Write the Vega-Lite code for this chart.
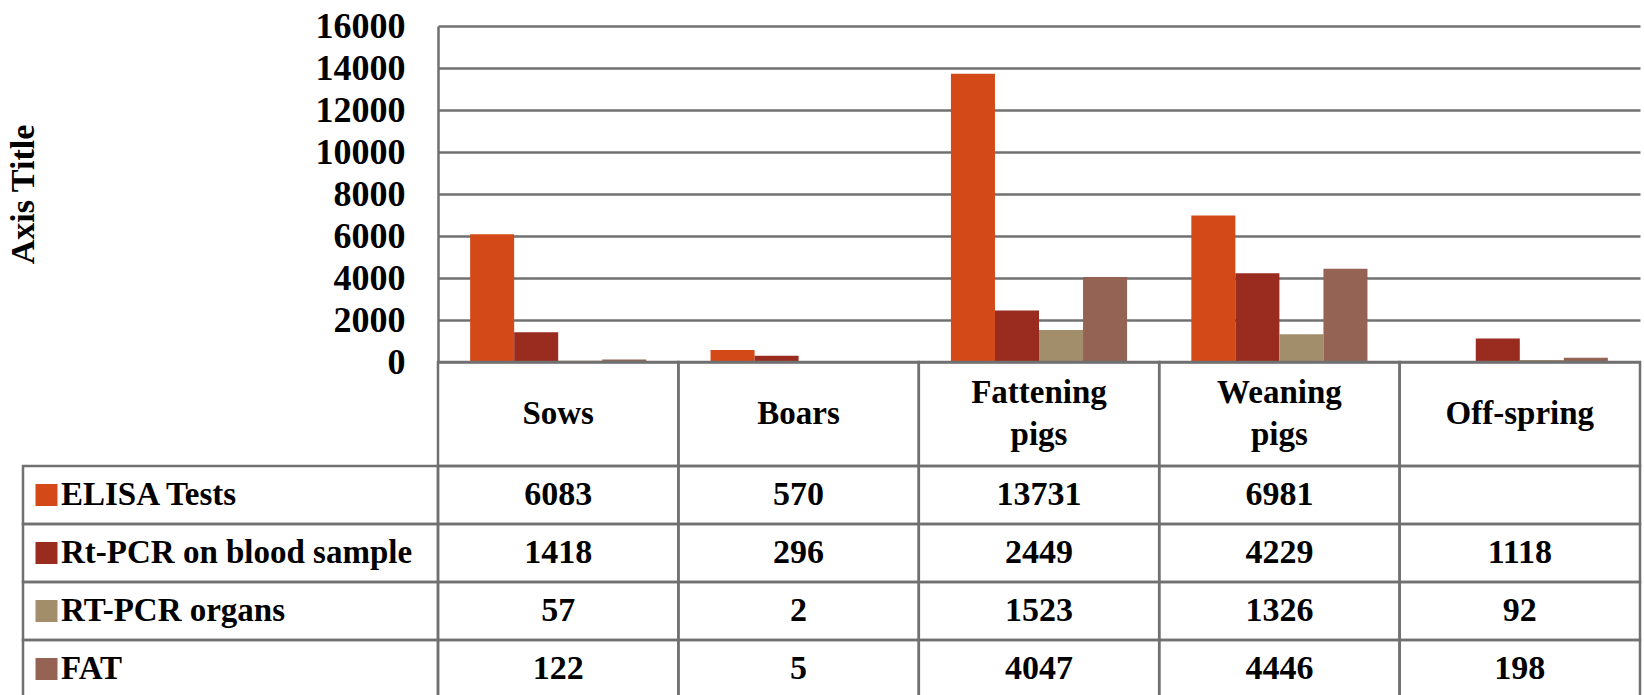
{
  "$schema": "https://vega.github.io/schema/vega-lite/v6.json",
  "background": "white",
  "padding": {"left": 6, "top": 8, "right": 0, "bottom": 0},
  "datasets": {
    "cells": [
      {"category": "Sows", "series": "ELISA Tests", "value": 6083},
      {"category": "Sows", "series": "Rt-PCR on blood sample", "value": 1418},
      {"category": "Sows", "series": "RT-PCR organs", "value": 57},
      {"category": "Sows", "series": "FAT", "value": 122},
      {"category": "Boars", "series": "ELISA Tests", "value": 570},
      {"category": "Boars", "series": "Rt-PCR on blood sample", "value": 296},
      {"category": "Boars", "series": "RT-PCR organs", "value": 2},
      {"category": "Boars", "series": "FAT", "value": 5},
      {"category": "Fattening pigs", "series": "ELISA Tests", "value": 13731},
      {"category": "Fattening pigs", "series": "Rt-PCR on blood sample", "value": 2449},
      {"category": "Fattening pigs", "series": "RT-PCR organs", "value": 1523},
      {"category": "Fattening pigs", "series": "FAT", "value": 4047},
      {"category": "Weaning pigs", "series": "ELISA Tests", "value": 6981},
      {"category": "Weaning pigs", "series": "Rt-PCR on blood sample", "value": 4229},
      {"category": "Weaning pigs", "series": "RT-PCR organs", "value": 1326},
      {"category": "Weaning pigs", "series": "FAT", "value": 4446},
      {"category": "Off-spring", "series": "ELISA Tests", "value": null},
      {"category": "Off-spring", "series": "Rt-PCR on blood sample", "value": 1118},
      {"category": "Off-spring", "series": "RT-PCR organs", "value": 92},
      {"category": "Off-spring", "series": "FAT", "value": 198}
    ],
    "empty": []
  },
  "columns": 2,
  "spacing": 0,
  "bounds": "flush",
  "align": "each",
  "concat": [
    {
      "data": {"name": "empty"},
      "width": 415,
      "height": 336,
      "mark": "text",
      "encoding": {}
    },
    {
      "data": {"name": "cells"},
      "width": 1202,
      "height": 336,
      "mark": {"type": "bar"},
      "encoding": {
        "x": {
          "field": "category", "type": "nominal",
          "sort": ["Sows", "Boars", "Fattening pigs", "Weaning pigs", "Off-spring"],
          "scale": {"paddingInner": 0, "paddingOuter": 0},
          "axis": null
        },
        "xOffset": {
          "field": "series", "type": "nominal",
          "sort": ["ELISA Tests", "Rt-PCR on blood sample", "RT-PCR organs", "FAT"],
          "scale": {"paddingInner": 0, "paddingOuter": 0.73}
        },
        "y": {
          "field": "value", "type": "quantitative",
          "scale": {"domain": [0, 16000], "nice": false},
          "axis": {
            "values": [0, 2000, 4000, 6000, 8000, 10000, 12000, 14000, 16000],
            "format": "d",
            "grid": true, "gridColor": "#707070", "gridWidth": 2.5, "gridOpacity": 1,
            "domain": true, "domainColor": "#707070", "domainWidth": 2.5,
            "ticks": false,
            "labelPadding": 33, "labelFlush": false,
            "labelFont": "Liberation Serif", "labelFontWeight": "bold", "labelFontSize": 36, "labelColor": "#000000",
            "title": "Axis Title",
            "titleFont": "Liberation Serif", "titleFontWeight": "bold", "titleFontSize": 34, "titleColor": "#000000",
            "titlePadding": 275
          }
        },
        "color": {
          "field": "series", "type": "nominal",
          "scale": {
            "domain": ["ELISA Tests", "Rt-PCR on blood sample", "RT-PCR organs", "FAT"],
            "range": ["#D34A18", "#9A2B1F", "#A38E6B", "#956353"]
          },
          "legend": null
        }
      }
    },
    {
      "data": {"name": "empty"},
      "width": 415,
      "height": 104,
      "mark": "text",
      "encoding": {}
    },
    {
      "data": {"name": "cells"},
      "transform": [{"filter": "datum.series === 'ELISA Tests'"}],
      "width": 1202,
      "height": 104,
      "encoding": {
        "x": {
          "field": "category", "type": "nominal",
          "sort": ["Sows", "Boars", "Fattening pigs", "Weaning pigs", "Off-spring"],
          "scale": {"paddingInner": 0, "paddingOuter": 0},
          "axis": null
        }
      },
      "layer": [
        {"mark": {"type": "rect", "filled": false, "stroke": "#707070", "strokeWidth": 2.5}},
        {
          "transform": [{"filter": "indexof(datum.category, ' ') < 0"}],
          "mark": {"type": "text", "font": "Liberation Serif", "fontWeight": "bold", "fontSize": 33, "color": "#000000", "baseline": "middle", "align": "center"},
          "encoding": {"text": {"field": "category", "type": "nominal"}}
        },
        {
          "transform": [{"filter": "indexof(datum.category, ' ') >= 0"}],
          "mark": {"type": "text", "font": "Liberation Serif", "fontWeight": "bold", "fontSize": 33, "color": "#000000", "baseline": "middle", "align": "center", "lineBreak": " ", "lineHeight": 42, "dy": -21},
          "encoding": {"text": {"field": "category", "type": "nominal"}}
        }
      ]
    },
    {
      "data": {"name": "cells"},
      "transform": [{"filter": "datum.category === 'Sows'"}],
      "width": 415,
      "height": 232,
      "encoding": {
        "y": {
          "field": "series", "type": "nominal",
          "sort": ["ELISA Tests", "Rt-PCR on blood sample", "RT-PCR organs", "FAT"],
          "scale": {"paddingInner": 0, "paddingOuter": 0},
          "axis": null
        }
      },
      "layer": [
        {"mark": {"type": "rect", "filled": false, "stroke": "#707070", "strokeWidth": 2.5}},
        {
          "mark": {"type": "point", "shape": "square", "filled": true, "opacity": 1, "size": 484, "x": 23.5, "strokeWidth": 0},
          "encoding": {
            "color": {
              "field": "series", "type": "nominal",
              "scale": {
                "domain": ["ELISA Tests", "Rt-PCR on blood sample", "RT-PCR organs", "FAT"],
                "range": ["#D34A18", "#9A2B1F", "#A38E6B", "#956353"]
              },
              "legend": null
            }
          }
        },
        {
          "mark": {"type": "text", "font": "Liberation Serif", "fontWeight": "bold", "fontSize": 33, "color": "#000000", "baseline": "middle", "align": "left", "x": 38},
          "encoding": {"text": {"field": "series", "type": "nominal"}}
        }
      ]
    },
    {
      "data": {"name": "cells"},
      "width": 1202,
      "height": 232,
      "encoding": {
        "x": {
          "field": "category", "type": "nominal",
          "sort": ["Sows", "Boars", "Fattening pigs", "Weaning pigs", "Off-spring"],
          "scale": {"paddingInner": 0, "paddingOuter": 0},
          "axis": null
        },
        "y": {
          "field": "series", "type": "nominal",
          "sort": ["ELISA Tests", "Rt-PCR on blood sample", "RT-PCR organs", "FAT"],
          "scale": {"paddingInner": 0, "paddingOuter": 0},
          "axis": null
        }
      },
      "layer": [
        {"mark": {"type": "rect", "filled": false, "stroke": "#707070", "strokeWidth": 2.5}},
        {
          "transform": [{"filter": "isValid(datum.value)"}],
          "mark": {"type": "text", "font": "Liberation Serif", "fontWeight": "bold", "fontSize": 34, "color": "#000000", "baseline": "middle", "align": "center"},
          "encoding": {"text": {"field": "value", "type": "quantitative", "format": "d"}}
        }
      ]
    }
  ],
  "config": {
    "view": {"stroke": null}
  }
}
